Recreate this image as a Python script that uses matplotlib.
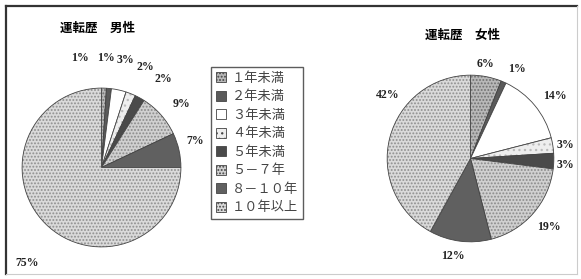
import numpy as np
import matplotlib
matplotlib.use("Agg")
import matplotlib.pyplot as plt
from matplotlib.lines import Line2D
from matplotlib.patches import Patch

plt.rcParams['font.family'] = ['Noto Sans CJK JP', 'DejaVu Sans']
plt.rcParams['hatch.linewidth'] = 0.9

categories = ["１年未満", "２年未満", "３年未満", "４年未満", "５年未満", "５－７年", "８－１０年", "１０年以上"]
male_values = [1, 1, 3, 2, 2, 9, 7, 75]
female_values = [6, 1, 14, 3, 3, 19, 12, 42]
male_title = "運転歴　男性"
female_title = "運転歴　女性"

# styles
faces = ['#b8b8b8', '#5a5a5a', '#ffffff', '#eeeeee', '#4a4a4a', '#d0d0d0', '#606060', '#dadada']
hatches = ['.....', None, None, '...', None, '.....', None, '.....']
hatch_cols = ['#707070', '#5a5a5a', '#ffffff', '#bbbbbb', '#4a4a4a', '#8a8a8a', '#606060', '#8f8f8f']

W, H = 581, 279
fig = plt.figure(figsize=(W / 100, H / 100), dpi=100)

def px_axes(cx, cy, r):
    return fig.add_axes([(cx - r) / W, (H - cy - r) / H, 2 * r / W, 2 * r / H])

# frame
fig.add_artist(Line2D([6 / W, 6 / W], [1 - 6 / H, 1 - 274 / H], color='#333333', lw=1.6, transform=fig.transFigure))
fig.add_artist(Line2D([6 / W, 577 / W], [1 - 6 / H, 1 - 6 / H], color='#333333', lw=1.6, transform=fig.transFigure))
fig.add_artist(Line2D([6 / W, 577 / W], [1 - 274 / H, 1 - 274 / H], color='#cccccc', lw=0.8, transform=fig.transFigure))
fig.add_artist(Line2D([577 / W, 577 / W], [1 - 6 / H, 1 - 274 / H], color='#cccccc', lw=0.8, transform=fig.transFigure))


def draw_pie(ax, values, label_dist, label_dang):
    wedges, _ = ax.pie(values, startangle=90, counterclock=False, radius=1,
                       wedgeprops=dict(edgecolor='#444444', linewidth=0.6))
    for w, fc, h, hc in zip(wedges, faces, hatches, hatch_cols):
        w.set_facecolor(fc)
        if h:
            w.set_hatch(h)
            w._hatch_color = matplotlib.colors.to_rgba(hc)
    ax.set_xlim(-1.02, 1.02)
    ax.set_ylim(-1.02, 1.02)
    ax.set_aspect('auto')
    total = sum(values)
    cum = 0
    for v, d, da in zip(values, label_dist, label_dang):
        mid = 90 - 360 * (cum + v / 2) / total + da
        cum += v
        ang = np.deg2rad(mid)
        ax.text(d * np.cos(ang), d * np.sin(ang), f"{v}%", ha='center', va='center',
                fontsize=8.5, fontweight='bold', family=['Liberation Serif'], color='#222222',
                clip_on=False)
    ax.axis('off')

ax1 = px_axes(101.5, 167.5, 81)
draw_pie(ax1, male_values,
         [1.40, 1.38, 1.39, 1.38, 1.36, 1.28, 1.23, 1.53],
         [13, 3, 0, -2, -6, -3, 3, 7])

ax2 = px_axes(470.5, 158.5, 85)
draw_pie(ax2, female_values,
         [1.15, 1.21, 1.26, 1.15, 1.14, 1.25, 1.19, 1.25],
         [2, -4, -3, -1, -2, 0, -3, -23])

fig.text(60 / W, 1 - 28 / H, male_title, fontsize=9, fontweight='bold', va='center', ha='left')
fig.text(425 / W, 1 - 35 / H, female_title, fontsize=9, fontweight='bold', va='center', ha='left')

handles = []
for fc, h, hc in zip(faces, hatches, hatch_cols):
    p = Patch(facecolor=fc, edgecolor='#444444', linewidth=0.6, hatch=h)
    handles.append(p)
leg = fig.legend(handles, categories, loc='upper left', bbox_to_anchor=(211 / W, 1 - 67 / H),
                 frameon=True, fancybox=False, fontsize=9.5, handlelength=0.8, handleheight=0.8,
                 handletextpad=0.45, labelspacing=0.42, borderpad=0.35, borderaxespad=0)
leg.get_frame().set_edgecolor('#333333')
leg.get_frame().set_linewidth(1.0)
for t in leg.get_texts():
    t.set_color('#444444')

fig.savefig('out.png', dpi=100)
